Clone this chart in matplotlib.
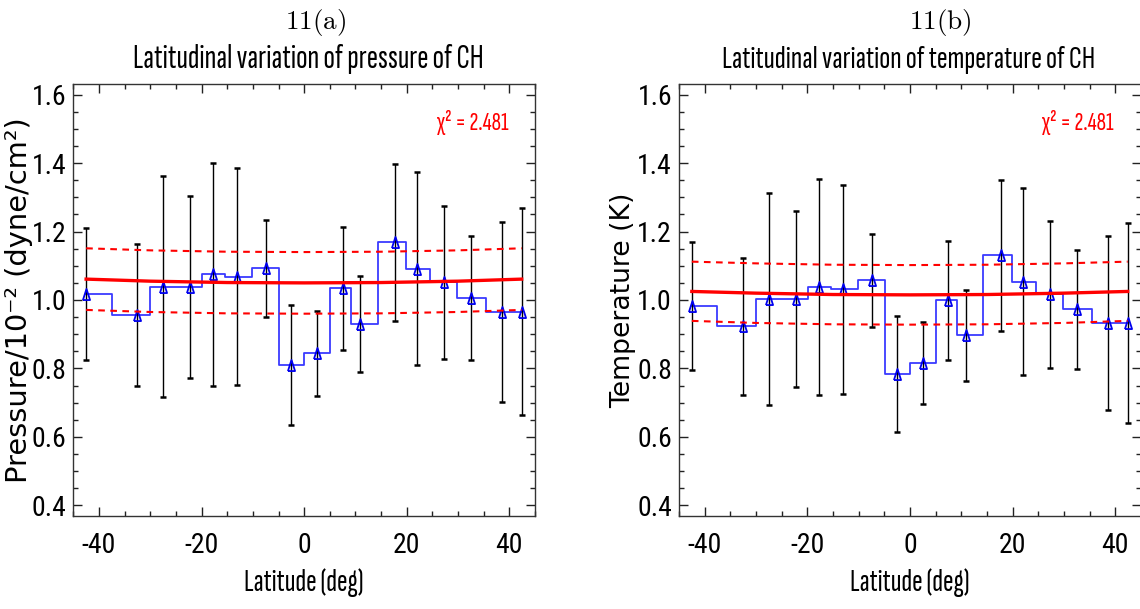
import matplotlib
matplotlib.use("Agg")
import matplotlib.pyplot as plt
from matplotlib.ticker import MultipleLocator, FormatStrFormatter

plt.rcParams['axes.unicode_minus'] = False

# ---------------- data ----------------
latitude = [-42.5, -32.6, -27.5, -22.2, -17.7, -13.0, -7.4, -2.5, 2.5,
            7.5, 10.9, 17.7, 22.0, 27.2, 32.5, 38.5, 42.4]

pressure = [1.018, 0.956, 1.039, 1.039, 1.075, 1.068, 1.093, 0.810, 0.844,
            1.034, 0.930, 1.169, 1.092, 1.052, 1.007, 0.965, 0.966]
pressure_err = [0.193, 0.207, 0.322, 0.266, 0.326, 0.317, 0.142, 0.176, 0.125,
                0.179, 0.139, 0.229, 0.282, 0.223, 0.181, 0.263, 0.302]

temperature = [0.983, 0.923, 1.003, 1.003, 1.038, 1.031, 1.057, 0.783, 0.816,
               0.999, 0.897, 1.130, 1.054, 1.017, 0.973, 0.933, 0.933]
temperature_err = [0.186, 0.200, 0.310, 0.257, 0.315, 0.306, 0.136, 0.169, 0.121,
                   0.173, 0.133, 0.221, 0.272, 0.215, 0.174, 0.255, 0.292]

fit_lat = [-42.5, -30.0, -15.0, 0.0, 15.0, 30.0, 42.4]
pressure_fit = [1.061, 1.055, 1.051, 1.050, 1.051, 1.055, 1.061]
pressure_fit_hi = [1.151, 1.145, 1.141, 1.140, 1.141, 1.145, 1.151]
pressure_fit_lo = [0.971, 0.965, 0.961, 0.960, 0.961, 0.965, 0.971]
temperature_fit = [1.025, 1.020, 1.016, 1.015, 1.016, 1.020, 1.025]
temperature_fit_hi = [1.112, 1.107, 1.103, 1.102, 1.103, 1.107, 1.112]
temperature_fit_lo = [0.939, 0.933, 0.929, 0.928, 0.929, 0.933, 0.939]

chi2_text = "\u03c7\u00b2 = 2.481"
x_ticks = [-40, -20, 0, 20, 40]
y_ticks = [0.4, 0.6, 0.8, 1.0, 1.2, 1.4, 1.6]

panel_tags = [r"$11(\mathrm{a})$", r"$11(\mathrm{b})$"]
titles = ["Latitudinal variation of pressure of CH",
          "Latitudinal variation of temperature of CH"]
ylabels = ["Pressure/10\u207b\u00b2 (dyne/cm\u00b2)", "Temperature (K)"]
xlabel = "Latitude (deg)"

# ---------------- styling ----------------
NARROW = ['Roboto Condensed', 'Archivo Narrow', 'Liberation Sans', 'DejaVu Sans']
XNARROW = ['Sofia Sans Extra Condensed', 'Fira Sans Extra Condensed',
           'Roboto Condensed', 'Liberation Sans', 'DejaVu Sans']
WIDE = ['DejaVu Sans']
W, H = 1140, 609
fig = plt.figure(figsize=(W / 100, H / 100), dpi=100)

tri = [(-0.64, -1.0), (0.64, -1.0), (0.0, 1.0), (-0.64, -1.0)]

panels = [
    dict(rect=(73.3, 84.3, 535.0, 515.7), vals=pressure, err=pressure_err,
         fit=pressure_fit, hi=pressure_fit_hi, lo=pressure_fit_lo,
         tag_x=316, title_x=308, title_w=350, ylab_x=-0.087, ylab_w=365,
         chi_x=472.5),
    dict(rect=(679.0, 84.3, 1141.0, 515.7), vals=temperature, err=temperature_err,
         fit=temperature_fit, hi=temperature_fit_hi, lo=temperature_fit_lo,
         tag_x=940, title_x=909, title_w=372, ylab_x=-0.092, ylab_w=215,
         chi_x=1078),
]

fit_targets = []  # (text artist, target extent in px, dimension)

for i, p in enumerate(panels):
    x0, y0, x1, y1 = p['rect']
    ax = fig.add_axes([x0 / W, 1 - y1 / H, (x1 - x0) / W, (y1 - y0) / H])
    ax.set_xlim(-45, 45)
    ax.set_ylim(0.37, 1.63)

    ax.step(latitude, p['vals'], where='mid', color='#3a3aff', lw=1.3, zorder=2)
    ax.errorbar(latitude, p['vals'], yerr=p['err'], fmt='none', ecolor='black',
                elinewidth=1.0, capsize=2.3, capthick=1.8, zorder=3)
    ax.plot(latitude, p['vals'], linestyle='none', marker=tri, ms=8,
            mfc='none', mec='#0000ee', mew=1.3, zorder=4)
    ax.plot(fit_lat, p['fit'], color='red', lw=2.4, zorder=5)
    ax.plot(fit_lat, p['hi'], color='red', lw=1.5, dashes=(3.2, 2.6), zorder=5)
    ax.plot(fit_lat, p['lo'], color='red', lw=1.5, dashes=(3.2, 2.6), zorder=5)

    ax.set_xticks(x_ticks)
    ax.set_yticks(y_ticks)
    ax.xaxis.set_minor_locator(MultipleLocator(5))
    ax.yaxis.set_minor_locator(MultipleLocator(0.05))
    ax.yaxis.set_major_formatter(FormatStrFormatter('%.1f'))
    ax.tick_params(which='both', direction='in', top=True, right=True,
                   color='#222222', width=1.0)
    ax.tick_params(which='major', length=6.5)
    ax.tick_params(which='minor', length=3.6)
    ax.tick_params(axis='x', which='major', pad=12)
    ax.tick_params(axis='y', which='major', pad=5)
    for lab in ax.get_xticklabels() + ax.get_yticklabels():
        lab.set_fontfamily(NARROW)
        lab.set_fontsize(20)
    for s in ax.spines.values():
        s.set_color('#333333')
        s.set_linewidth(1.0)

    xl = ax.set_xlabel(xlabel, family=XNARROW, fontsize=17.5)
    ax.xaxis.set_label_coords(0.5, -0.122)
    yl = ax.set_ylabel(ylabels[i], family=WIDE, fontsize=19)
    ax.yaxis.set_label_coords(p['ylab_x'], 0.5)

    chi = fig.text(p['chi_x'] / W, 1 - 130 / H, chi2_text, color='red',
                   family=XNARROW, fontsize=16, ha='center', va='baseline')
    tt = fig.text(p['title_x'] / W, 1 - 68 / H, titles[i], family=XNARROW,
                  fontsize=19, ha='center', va='baseline')
    fig.text(p['tag_x'] / W, 1 - 28.5 / H, panel_tags[i], fontsize=19.5,
             math_fontfamily='cm', ha='center', va='baseline')

    fit_targets += [(tt, p['title_w'], 'w'), (xl, 120, 'w'), (chi, 72, 'w'),
                    (yl, p['ylab_w'], 'h')]

# scale text sizes so their extents match the reference
fig.canvas.draw()
r = fig.canvas.get_renderer()
for art, target, dim in fit_targets:
    bb = art.get_window_extent(renderer=r)
    cur = bb.width if dim == 'w' else bb.height
    if cur > 0:
        art.set_fontsize(art.get_fontsize() * target / cur)

fig.savefig("out.png", dpi=100)
